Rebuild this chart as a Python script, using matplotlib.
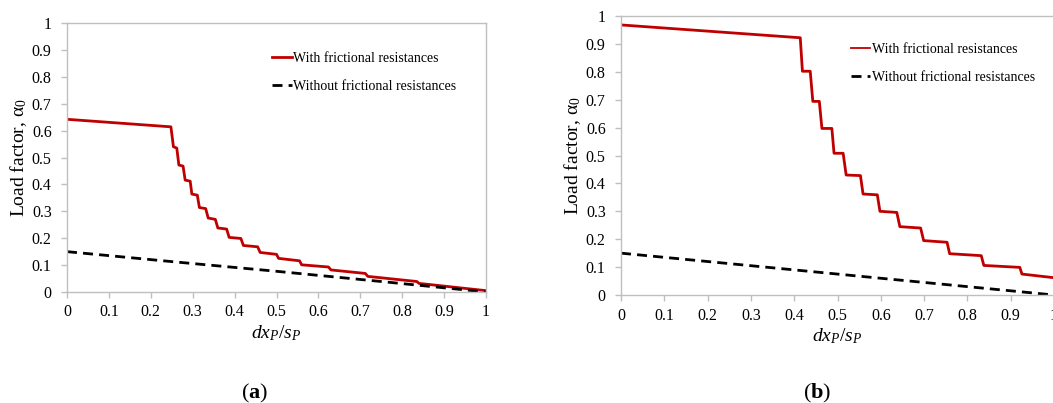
import numpy as np
import matplotlib
matplotlib.use('Agg')
import matplotlib.pyplot as plt

plt.rcParams['font.family'] = ['Liberation Serif', 'DejaVu Serif']
plt.rcParams['mathtext.fontset'] = 'custom'
plt.rcParams['mathtext.rm'] = 'Liberation Serif'
plt.rcParams['mathtext.it'] = 'Liberation Serif:italic'
plt.rcParams['mathtext.bf'] = 'Liberation Serif:bold'

#%% Dados
# (a)
xa_fric = [0, 0.248, 0.254, 0.262, 0.267, 0.277, 0.282, 0.294, 0.298, 0.311, 0.316,
           0.331, 0.337, 0.354, 0.360, 0.381, 0.387, 0.415, 0.421, 0.455, 0.461,
           0.500, 0.505, 0.555, 0.560, 0.624, 0.630, 0.712, 0.718, 0.835, 0.840, 1.0]
ya_fric = [0.642, 0.614, 0.540, 0.535, 0.472, 0.468, 0.416, 0.412, 0.364, 0.360, 0.314,
           0.310, 0.275, 0.270, 0.238, 0.234, 0.203, 0.199, 0.173, 0.168, 0.147,
           0.140, 0.125, 0.116, 0.101, 0.093, 0.082, 0.069, 0.058, 0.039, 0.032, 0.005]
xa_nofric = [0, 0.25, 0.5, 0.75, 1.0]
ya_nofric = [0.150, 0.113, 0.077, 0.039, 0.0]

# (b)
xb_fric = [0, 0.414, 0.419, 0.437, 0.443, 0.458, 0.464, 0.487, 0.492, 0.513, 0.520,
           0.553, 0.559, 0.592, 0.598, 0.637, 0.644, 0.692, 0.699, 0.753, 0.759,
           0.832, 0.838, 0.921, 0.926, 1.0]
yb_fric = [0.968, 0.922, 0.802, 0.802, 0.694, 0.694, 0.597, 0.597, 0.508, 0.508, 0.430,
           0.428, 0.362, 0.359, 0.300, 0.296, 0.245, 0.240, 0.195, 0.189, 0.148,
           0.141, 0.106, 0.099, 0.075, 0.062]
xb_nofric = [0, 0.5, 1.0]
yb_nofric = [0.150, 0.075, 0.0]

ticks = np.round(np.arange(0, 1.01, 0.1), 1)
tick_labels = ['0', '0.1', '0.2', '0.3', '0.4', '0.5', '0.6', '0.7', '0.8', '0.9', '1']

red = '#c00000'
gray = '#bfbfbf'

W, H = 1053, 403
fig = plt.figure(figsize=(W/100, H/100), dpi=100)

def painel(rect, xf, yf, xn, yn, leg_xy, lw_leg):
    ax = fig.add_axes(rect)
    ax.plot(xf, yf, color=red, linewidth=2.0, label='With frictional resistances')
    ax.plot(xn, yn, color='black', linewidth=2.0, linestyle=(0, (3.6, 2.2)),
            label='Without frictional resistances')
    ax.set_xlim(0, 1)
    ax.set_ylim(0, 1)
    ax.set_xticks(ticks)
    ax.set_xticklabels(tick_labels)
    ax.set_yticks(ticks)
    ax.set_yticklabels(tick_labels)
    for s in ax.spines.values():
        s.set_color(gray)
        s.set_linewidth(1.0)
    ax.tick_params(axis='both', which='major', labelsize=11.5, color=gray,
                   length=4, width=1.0)
    ax.tick_params(axis='x', pad=5)
    ax.tick_params(axis='y', pad=7)
    ax.set_xlabel(r'$dx_P/s_P$', fontsize=14, labelpad=2)
    ax.set_ylabel('Load factor, α$_0$', fontsize=14, labelpad=2)
    leg = ax.legend(loc='upper left', bbox_to_anchor=leg_xy, frameon=False,
                    fontsize=10, handlelength=1.4, handletextpad=0.1,
                    labelspacing=1.1, borderpad=0, borderaxespad=0)
    leg.get_lines()[0].set_linewidth(lw_leg)
    return ax

ax1 = painel([67/W, 1-292/H, 419/W, 269/H], xa_fric, ya_fric, xa_nofric, ya_nofric,
             (0.49, 0.892), 2.0)
ax2 = painel([621/W, 1-295/H, 433/W, 279/H], xb_fric, yb_fric, xb_nofric, yb_nofric,
             (0.531, 0.905), 1.3)

fig.text(255/W, 1-393/H, r'($\mathbf{a}$)', fontsize=16, ha='center', va='center')
fig.text(817/W, 1-393/H, r'($\mathbf{b}$)', fontsize=16, ha='center', va='center')

fig.savefig('out.png', dpi=100)
